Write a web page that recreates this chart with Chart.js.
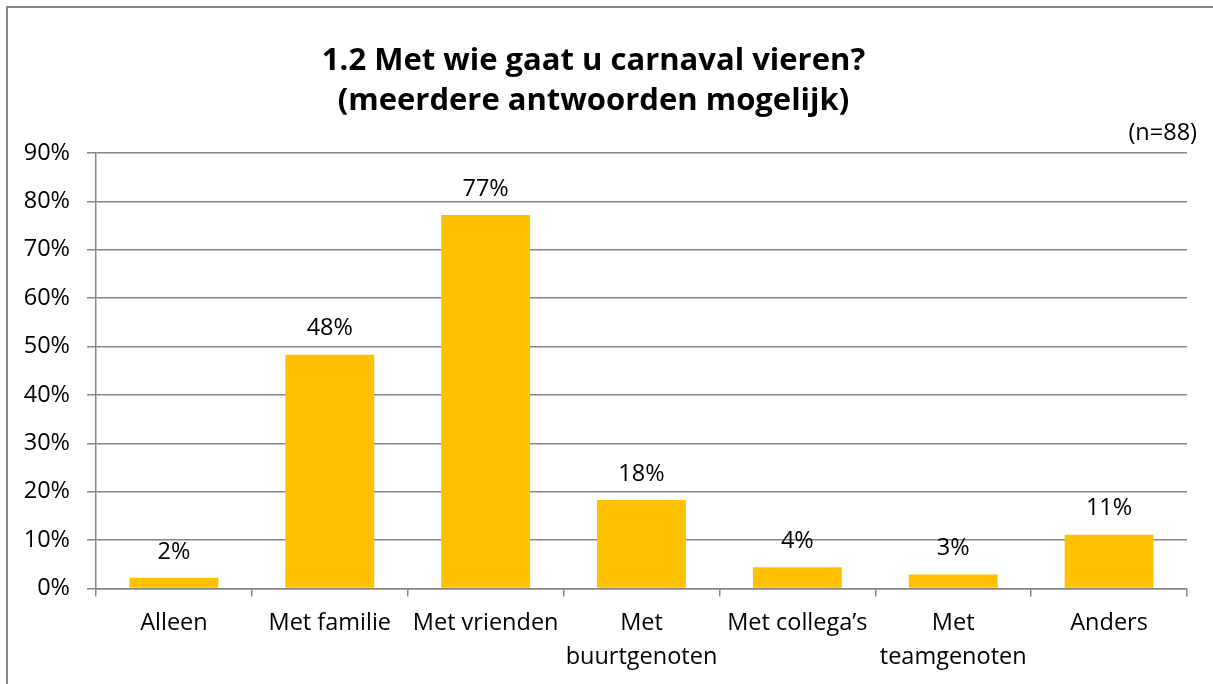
<!DOCTYPE html>
<html>
<head>
<meta charset="utf-8">
<script src="https://cdn.jsdelivr.net/npm/chart.js@4/dist/chart.umd.min.js"></script>
<style>
  html, body { margin: 0; padding: 0; background: #fff; }
  #wrap { width: 1213px; height: 684px; position: relative; }
</style>
</head>
<body>
<div id="wrap"><canvas id="c" width="1213" height="684"></canvas></div>
<script>
const titleLines = ["1.2 Met wie gaat u carnaval vieren?", "(meerdere antwoorden mogelijk)"];
const sampleNote = "(n=88)";
const categories = [
  "Alleen",
  "Met familie",
  "Met vrienden",
  ["Met", "buurtgenoten"],
  "Met collega\u2019s",
  ["Met", "teamgenoten"],
  "Anders"
];
const percentages = [2.2, 48.3, 77.2, 18.3, 4.4, 2.9, 11.1];
const yTicks = [0, 10, 20, 30, 40, 50, 60, 70, 80, 90];

const FONT = "'Open Sans', 'Liberation Sans', sans-serif";
const GRID = '#868686';

const decor = {
  id: 'decor',
  beforeDraw(chart) {
    const ctx = chart.ctx;
    ctx.save();
    ctx.fillStyle = '#ffffff';
    ctx.fillRect(0, 0, chart.width, chart.height);
    ctx.strokeStyle = '#878787';
    ctx.lineWidth = 2;
    ctx.beginPath();
    ctx.moveTo(7, chart.height + 2);
    ctx.lineTo(7, 7);
    ctx.lineTo(chart.width + 2, 7);
    ctx.stroke();
    ctx.restore();
  },
  afterDatasetsDraw(chart) {
    const ctx = chart.ctx;
    const meta = chart.getDatasetMeta(0);
    ctx.save();
    ctx.font = '23.5px ' + FONT;
    ctx.fillStyle = '#000';
    ctx.textAlign = 'center';
    ctx.textBaseline = 'middle';
    meta.data.forEach((bar, i) => {
      const v = chart.data.datasets[0].data[i];
      ctx.fillText(Math.round(v) + '%', bar.x, bar.y - 26);
    });
    const area = chart.chartArea;
    ctx.textAlign = 'right';
    ctx.fillText(sampleNote, area.right + 10, area.top - 20);
    ctx.restore();
  }
};

new Chart(document.getElementById('c'), {
  type: 'bar',
  data: {
    labels: categories,
    datasets: [{
      data: percentages,
      backgroundColor: '#FFC000',
      borderWidth: 0,
      barPercentage: 0.57,
      categoryPercentage: 1.0
    }]
  },
  options: {
    responsive: false,
    animation: false,
    devicePixelRatio: 1,
    layout: { padding: { top: 0, left: 0, right: 26, bottom: 0 } },
    plugins: {
      legend: { display: false },
      tooltip: { enabled: false },
      title: {
        display: true,
        text: titleLines,
        color: '#000',
        font: { family: FONT, size: 31, weight: 'bold', lineHeight: '40px' },
        padding: { top: 41, bottom: 32 }
      }
    },
    scales: {
      x: {
        offset: true,
        grid: {
          offset: true,
          drawOnChartArea: false,
          drawTicks: true,
          tickLength: 8,
          color: GRID,
          lineWidth: 1.5
        },
        border: { display: true, color: GRID, width: 1.5 },
        ticks: {
          color: '#000',
          font: { family: FONT, size: 23.5, lineHeight: '34px' },
          padding: 10,
          autoSkip: false,
          maxRotation: 0,
          minRotation: 0
        },
        afterFit(scale) { scale.height = 95.5; }
      },
      y: {
        min: 0,
        max: 90,
        afterBuildTicks(scale) { scale.ticks = yTicks.map(v => ({ value: v })); },
        grid: {
          color: GRID,
          lineWidth: 1.5,
          drawTicks: true,
          tickLength: 9
        },
        border: { display: true, color: GRID, width: 1.5 },
        ticks: {
          color: '#000',
          font: { family: FONT, size: 23.5 },
          padding: 17,
          callback: (v) => v + '%'
        },
        afterFit(scale) { scale.width = 96; }
      }
    }
  },
  plugins: [decor]
});
</script>
</body>
</html>
